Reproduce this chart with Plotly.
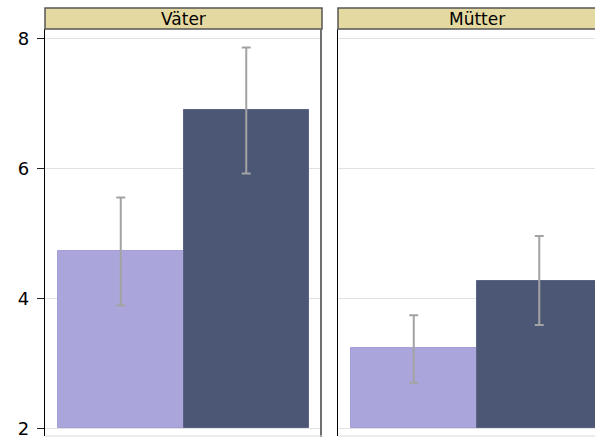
import plotly.graph_objects as go

# Group means with confidence limits, one panel per parent group
panels = ["Väter", "Mütter"]
light_mean = [4.73, 3.23]
light_upper = [5.55, 3.74]
light_lower = [3.89, 2.70]
dark_mean = [6.90, 4.26]
dark_upper = [7.86, 4.96]
dark_lower = [5.92, 3.59]
y_ticks = [2, 4, 6, 8]
y_floor = 2

W, H = 595, 437
LIGHT = "#aaa6dc"
DARK = "#4b5774"
ERR = "#a3a3a3"
STRIP = "#e5d9a2"

# panel geometry (pixels)
panel_px = [(45, 322), (338, 615)]
plot_top, plot_bot = 29, 436
strip_top = 8
bar_px = 125.5
pad = 13 / bar_px
y_at_8, px_per_unit = 38.3, 65.0


def px_x(p):
    return p / W


def px_y(p):
    return (H - p) / H


y_lo = y_floor - (plot_bot - (y_at_8 + 6 * px_per_unit)) / px_per_unit
y_hi = 8 + (y_at_8 - plot_top) / px_per_unit

fig = go.Figure()

for i, name in enumerate(panels):
    xa = "x" if i == 0 else f"x{i + 1}"
    ya = "y" if i == 0 else f"y{i + 1}"
    for pos, mean, up, lo, col, edge in [
        (0, light_mean[i], light_upper[i], light_lower[i], LIGHT, "#a29ed8"),
        (1, dark_mean[i], dark_upper[i], dark_lower[i], DARK, "#5a6586"),
    ]:
        fig.add_trace(go.Bar(
            x=[pos], y=[mean - y_floor], base=[y_floor], width=[1.0],
            marker=dict(color=col, line=dict(color=edge, width=1)),
            error_y=dict(type="data", symmetric=False,
                         array=[up - mean], arrayminus=[mean - lo],
                         color=ERR, thickness=2, width=4.5),
            xaxis=xa, yaxis=ya, showlegend=False,
        ))

layout = dict(
    width=W, height=H,
    margin=dict(l=0, r=0, t=0, b=0),
    paper_bgcolor="white", plot_bgcolor="white",
    font=dict(family="DejaVu Sans", color="black"),
    bargap=0,
)

for i in range(2):
    x0, x1 = panel_px[i]
    sfx = "" if i == 0 else str(i + 1)
    vis_x1 = min(x1, W)
    rng_hi = -0.5 - pad + (vis_x1 - x0) / bar_px
    layout["xaxis" + sfx] = dict(
        domain=[px_x(x0), px_x(vis_x1)], range=[-0.5 - pad, rng_hi],
        showticklabels=False, ticks="", showgrid=False, zeroline=False,
        showline=False, fixedrange=True, anchor="y" + sfx,
    )
    layout["yaxis" + sfx] = dict(
        domain=[px_y(plot_bot), px_y(plot_top)], range=[y_lo, y_hi],
        tickvals=y_ticks, showticklabels=(i == 0),
        ticks="outside" if i == 0 else "", ticklen=7, tickwidth=1,
        tickcolor="#222", tickfont=dict(size=18, family="DejaVu Sans"),
        ticklabeloverflow="allow", ticklabelstandoff=4,
        showgrid=True, gridcolor="#e2e2e2", gridwidth=1, zeroline=False,
        showline=True, linecolor="black", linewidth=1.2,
        automargin=False, anchor="x" + sfx,
    )

fig.update_layout(**layout)

shapes = []
annotations = []
for i, name in enumerate(panels):
    x0, x1 = panel_px[i]
    # strip header
    shapes.append(dict(type="rect", xref="paper", yref="paper",
                       x0=px_x(x0), x1=px_x(x1), y0=px_y(plot_top), y1=px_y(strip_top),
                       fillcolor=STRIP, line=dict(color="#555555", width=1.5), layer="above"))
    # right border of panel
    shapes.append(dict(type="line", xref="paper", yref="paper",
                       x0=px_x(x1 - 1), x1=px_x(x1 - 1), y0=px_y(plot_bot + 1), y1=px_y(plot_top),
                       line=dict(color="#707070", width=2), layer="above"))
    # bottom edge of panel
    shapes.append(dict(type="line", xref="paper", yref="paper",
                       x0=px_x(x0), x1=px_x(x1), y0=px_y(plot_bot), y1=px_y(plot_bot),
                       line=dict(color="#d8d8d8", width=1), layer="above"))
    annotations.append(dict(text=name, xref="paper", yref="paper",
                            x=px_x((x0 + x1) / 2), y=px_y((strip_top + plot_top) / 2),
                            xanchor="center", yanchor="middle", showarrow=False,
                            font=dict(size=17, family="DejaVu Sans", color="black")))

fig.update_layout(shapes=shapes, annotations=annotations)

fig.write_html("out.html")
